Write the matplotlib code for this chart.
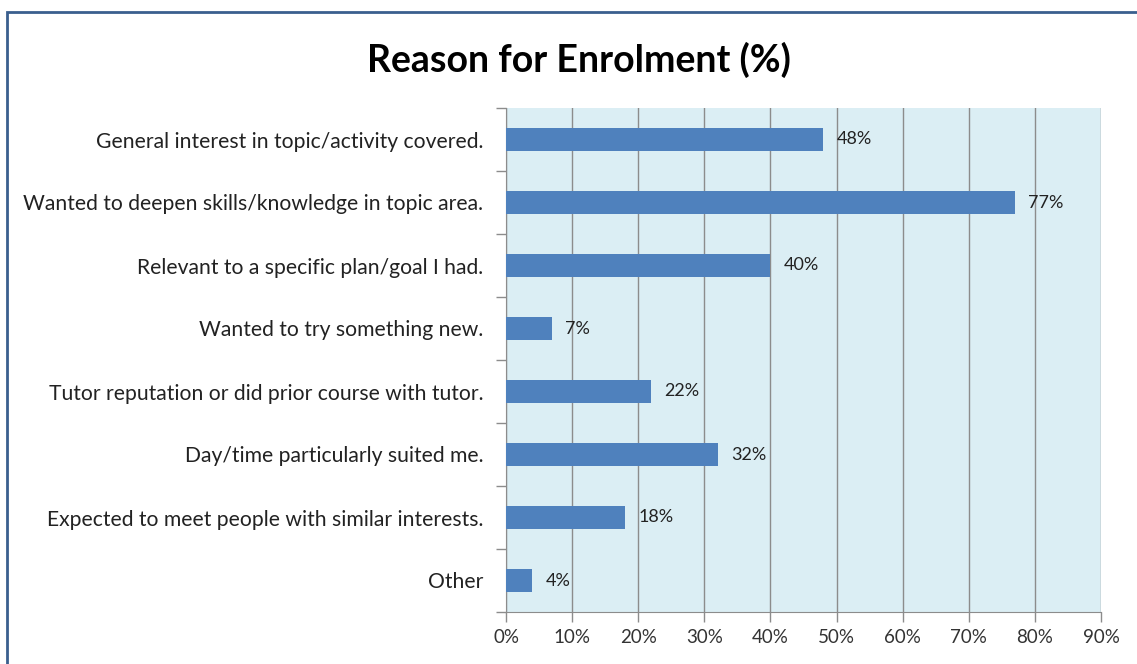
import numpy as np
import matplotlib
matplotlib.use("Agg")
import matplotlib.pyplot as plt
from matplotlib.patches import Rectangle

CATEGORIES = [
    "General interest in topic/activity covered.",
    "Wanted to deepen skills/knowledge in topic area.",
    "Relevant to a specific plan/goal I had.",
    "Wanted to try something new.",
    "Tutor reputation or did prior course with tutor.",
    "Day/time particularly suited me.",
    "Expected to meet people with similar interests.",
    "Other",
]
VALUES = [48, 77, 40, 7, 22, 32, 18, 4]
X_TICKS = [0, 10, 20, 30, 40, 50, 60, 70, 80, 90]

BAR_COLOR = "#4F81BD"
BG_COLOR = "#DBEEF4"
GRID_COLOR = "#8C8C8C"
FONT = ["Lato", "DejaVu Sans"]

W, H = 1137, 664
fig = plt.figure(figsize=(W / 100, H / 100), dpi=100)
plt.rcParams["font.family"] = FONT

# outer chart frame (right/bottom edges fall off the canvas)
fig.patches.append(Rectangle((7 / W, -0.05), 1.2, 1 - 12 / H + 0.05,
                             transform=fig.transFigure, fill=False,
                             edgecolor="#3A5F8E", linewidth=2))

ax = fig.add_axes([506 / W, 1 - 612 / H, (1101 - 506) / W, (612 - 108) / H])
ax.set_facecolor(BG_COLOR)

n = len(CATEGORIES)
y = np.arange(n)
ax.barh(y, VALUES, height=0.38, color=BAR_COLOR, zorder=3)
for yi, v in zip(y, VALUES):
    ax.text(v + 2.0, yi, f"{v}%", va="center", ha="left", fontsize=13,
            color="#222222", zorder=4)

ax.set_xlim(0, 90)
ax.set_ylim(n - 0.5, -0.5)
ax.set_xticks(X_TICKS)
ax.set_xticklabels([f"{t}%" for t in X_TICKS], fontsize=13.5, color="#333333")
ax.xaxis.grid(True, color=GRID_COLOR, linewidth=1.0, zorder=1)

# category labels at bar centres, tick marks at category boundaries
ax.set_yticks(y)
ax.set_yticklabels(CATEGORIES, fontsize=15.2, color="#222222")
ax.tick_params(axis="y", length=0, pad=16.5)
ax.set_yticks(np.arange(n + 1) - 0.5, minor=True)
ax.tick_params(axis="y", which="minor", length=7, color=GRID_COLOR, width=1)
ax.tick_params(axis="x", length=7, color=GRID_COLOR, width=1, pad=5)

for s in ["top", "right"]:
    ax.spines[s].set_visible(False)
ax.spines["left"].set_color(GRID_COLOR)
ax.spines["bottom"].set_color(GRID_COLOR)

fig.text(579 / W, 1 - 60 / H, "Reason for Enrolment (%)",
         ha="center", va="center", fontsize=27, fontweight="bold", color="black")

fig.savefig("out.png", dpi=100, facecolor="white")
